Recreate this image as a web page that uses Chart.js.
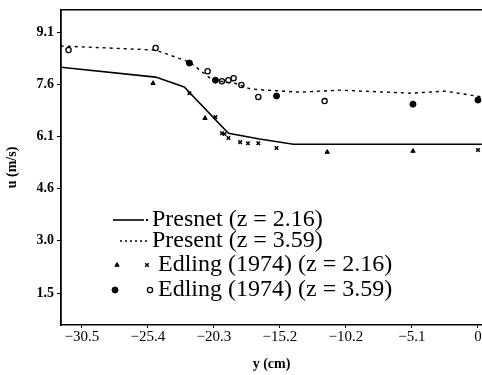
<!DOCTYPE html>
<html>
<head>
<meta charset="utf-8">
<script src="https://cdn.jsdelivr.net/npm/chart.js@4"></script>
<style>
html, body { margin: 0; padding: 0; background: #fff; }
#wrap { width: 482px; height: 375px; }
</style>
</head>
<body>
<div id="wrap"><canvas id="velChart" width="482" height="375"></canvas></div>
<script>
// predicted profiles
var presX216 = [-32.1, -24.8, -22.6, -19.2, -16.8, -14.2, 0.3];
var presY216 = [8.12, 7.83, 7.54, 6.19, 6.02, 5.87, 5.87];
var presX359 = [-32.1, -24.8, -22.2, -20.4, -18.7, -17.5, -13.7, -10.6, -5.2, -2.5, 0.3];
var presY359 = [8.74, 8.62, 8.27, 7.74, 7.65, 7.48, 7.39, 7.45, 7.36, 7.42, 7.25];
// measured, Edling (1974)
var triX = [-25.0, -21.0, -11.6, -5.0];
var triY = [7.65, 6.63, 5.64, 5.67];
var crossX = [-22.2, -20.2, -19.7, -19.5, -19.2, -18.3, -17.7, -16.9, -15.5, 0];
var crossY = [7.36, 6.66, 6.19, 6.17, 6.05, 5.93, 5.90, 5.90, 5.76, 5.70];
var dotX = [-22.2, -20.2, -15.5, -5.0, 0];
var dotY = [8.24, 7.74, 7.28, 7.04, 7.16];
var ringX = [-31.5, -24.8, -20.8, -19.7, -19.2, -18.8, -18.2, -16.9, -11.8];
var ringY = [8.62, 8.68, 8.00, 7.71, 7.74, 7.80, 7.60, 7.25, 7.13];

var xTickVals = [-30.48, -25.4, -20.32, -15.24, -10.16, -5.08, 0];
var xTickLabels = ['\u221230.5', '\u221225.4', '\u221220.3', '\u221215.2', '\u221210.2', '\u22125.1', '0'];
var yTickVals = [1.524, 3.048, 4.572, 6.096, 7.62, 9.144];
var yTickLabels = ['1.5', '3.0', '4.6', '6.1', '7.6', '9.1'];
var legendLabels = ['Presnet (z = 2.16)', 'Present (z = 3.59)', 'Edling (1974) (z = 2.16)', 'Edling (1974) (z = 3.59)'];

function pts(xs, ys) {
    var out = [];
    for (var i = 0; i < xs.length; i++) out.push({ x: xs[i], y: ys[i] });
    return out;
}

var serif = "'Liberation Serif', 'DejaVu Serif', serif";

// legend sits inside the plot, two symbols for the measured rows
var legendBox = {
    id: 'legendBox',
    afterDraw: function (chart) {
        var ctx = chart.ctx;
        var rows = [220, 241, 265, 290];
        var textX = [152, 152, 158, 158];
        ctx.save();
        ctx.fillStyle = '#000';
        ctx.strokeStyle = '#000';
        // line samples
        ctx.lineWidth = 1.6;
        ctx.beginPath(); ctx.moveTo(113, rows[0]); ctx.lineTo(144, rows[0]); ctx.stroke();
        ctx.fillRect(146, rows[0] - 1, 2, 2);
        ctx.setLineDash([2, 3]);
        ctx.beginPath(); ctx.moveTo(120, rows[1]); ctx.lineTo(148, rows[1]); ctx.stroke();
        ctx.setLineDash([]);
        // point samples
        var ds = chart.data.datasets;
        var sym = [[2, 117, 147], [4, 115, 150]];
        for (var r = 0; r < sym.length; r++) {
            var y = rows[r + 2];
            var a = ds[sym[r][0]], b = ds[sym[r][0] + 1];
            ctx.lineWidth = a.borderWidth; ctx.fillStyle = a.backgroundColor;
            Chart.helpers.drawPoint(ctx, { pointStyle: a.pointStyle, radius: a.pointRadius, borderWidth: a.borderWidth }, sym[r][1], y);
            ctx.lineWidth = b.borderWidth; ctx.fillStyle = b.backgroundColor;
            Chart.helpers.drawPoint(ctx, { pointStyle: b.pointStyle, radius: b.pointRadius, borderWidth: b.borderWidth }, sym[r][2], y);
        }
        ctx.fillStyle = '#000';
        ctx.font = '24px ' + serif;
        ctx.textBaseline = 'middle';
        for (var i = 0; i < legendLabels.length; i++) {
            ctx.fillText(legendLabels[i], textX[i], rows[i]);
        }
        ctx.restore();
    }
};

var ctx1 = document.getElementById('velChart');
var velChart = new Chart(ctx1, {
    type: 'scatter',
    data: {
        datasets: [{
            label: legendLabels[0],
            data: pts(presX216, presY216),
            showLine: true,
            borderColor: '#000',
            borderWidth: 1.6,
            pointRadius: 0,
            tension: 0
        }, {
            label: legendLabels[1],
            data: pts(presX359, presY359),
            showLine: true,
            borderColor: '#000',
            borderWidth: 1.4,
            borderDash: [3, 4],
            pointRadius: 0,
            tension: 0
        }, {
            label: legendLabels[2],
            data: pts(triX, triY),
            pointStyle: 'triangle',
            pointRadius: 2.5,
            borderWidth: 1,
            borderColor: '#000',
            backgroundColor: '#000'
        }, {
            label: legendLabels[2],
            data: pts(crossX, crossY),
            pointStyle: 'crossRot',
            pointRadius: 2.5,
            borderWidth: 1.5,
            borderColor: '#000',
            backgroundColor: '#000'
        }, {
            label: legendLabels[3],
            data: pts(dotX, dotY),
            pointStyle: 'circle',
            pointRadius: 3,
            borderWidth: 1,
            borderColor: '#000',
            backgroundColor: '#000'
        }, {
            label: legendLabels[3],
            data: pts(ringX, ringY),
            pointStyle: 'circle',
            pointRadius: 2.6,
            borderWidth: 1.3,
            borderColor: '#000',
            backgroundColor: '#fff'
        }]
    },
    options: {
        responsive: false,
        animation: false,
        layout: { autoPadding: false, padding: { top: 10, right: 0, left: 0, bottom: 0 } },
        plugins: {
            legend: { display: false },
            tooltip: { enabled: false }
        },
        scales: {
            x: {
                type: 'linear',
                min: -32.08,
                max: 0.31,
                afterFit: function (s) { s.height = 50; s.paddingRight = 0; s.paddingLeft = 0; },
                afterBuildTicks: function (s) {
                    s.ticks = xTickVals.map(function (v) { return { value: v }; });
                },
                ticks: {
                    color: '#000',
                    padding: 0,
                    maxRotation: 0,
                    font: { family: serif, size: 15 },
                    callback: function (v, i) { return xTickLabels[i]; }
                },
                grid: { display: true, drawOnChartArea: false, tickLength: 3, color: '#000', lineWidth: 1 },
                border: { display: true, color: '#000', width: 1.6 },
                title: {
                    display: true,
                    text: 'y (cm)',
                    color: '#000',
                    font: { family: serif, size: 14, weight: 'bold' },
                    padding: { top: 0, bottom: 2 }
                }
            },
            xTop: {
                type: 'linear',
                position: 'top',
                min: -32.08,
                max: 0.31,
                afterFit: function (s) { s.height = 0; s.paddingRight = 0; s.paddingLeft = 0; },
                ticks: { display: false },
                grid: { display: false },
                border: { display: true, color: '#000', width: 1.4, dash: [14, 3] }
            },
            y: {
                type: 'linear',
                min: 0.59,
                max: 9.79,
                afterFit: function (s) { s.width = 61; s.paddingTop = 0; s.paddingBottom = 0; },
                afterBuildTicks: function (s) {
                    s.ticks = yTickVals.map(function (v) { return { value: v }; });
                },
                ticks: {
                    color: '#000',
                    padding: 3,
                    font: { family: serif, size: 14, weight: 'bold' },
                    callback: function (v, i) { return yTickLabels[i]; }
                },
                grid: { display: true, drawOnChartArea: false, tickLength: 4, color: '#000', lineWidth: 1 },
                border: { display: true, color: '#000', width: 1.8 },
                title: {
                    display: true,
                    text: 'u (m/s)',
                    color: '#000',
                    font: { family: serif, size: 14, weight: 'bold' },
                    padding: { top: 4, bottom: 0 }
                }
            }
        }
    },
    plugins: [legendBox]
});
</script>
</body>
</html>
